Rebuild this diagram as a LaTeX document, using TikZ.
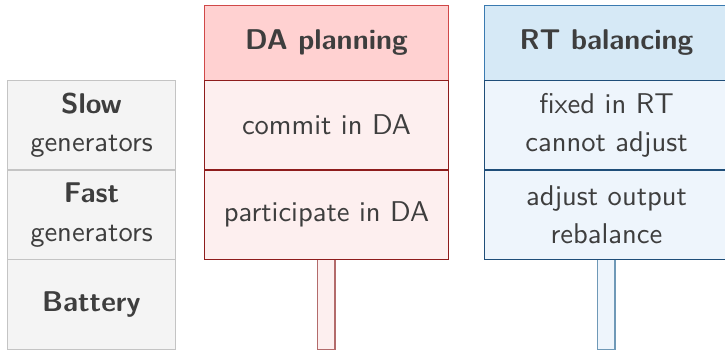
\documentclass[tikz,border=0pt]{standalone}
\usepackage{xcolor}
\definecolor{txt}{HTML}{3E3E3E}
\definecolor{gfill}{HTML}{F4F4F4}
\definecolor{gline}{HTML}{C4C4C4}
\definecolor{rhead}{HTML}{FFD1D1}
\definecolor{rheadline}{HTML}{D04848}
\definecolor{rrow}{HTML}{FDEFEF}
\definecolor{rline}{HTML}{8E1C1C}
\definecolor{rbar}{HTML}{B36B6B}
\definecolor{bhead}{HTML}{D6E9F6}
\definecolor{bheadline}{HTML}{3A7AB0}
\definecolor{brow}{HTML}{EEF5FC}
\definecolor{bline}{HTML}{1F4E79}
\definecolor{bbar}{HTML}{6F99B7}
\tikzset{
  base/.style={rectangle, inner sep=0pt, outer sep=0pt, line width=0.45pt, text=txt,
    font=\sffamily\fontsize{10}{13.5}\selectfont, align=center},
  leftcell/.style={base, fill=gfill, draw=gline, minimum width=58.94pt, minimum height=31.4pt},
  dahead/.style={base, fill=rhead, draw=rheadline, minimum width=85.54pt, minimum height=26.1pt, font=\sffamily\bfseries\fontsize{10}{13.5}\selectfont},
  darow/.style={base, fill=rrow, draw=rline, minimum width=85.54pt, minimum height=31.4pt},
  dabar/.style={base, fill=rrow, draw=rbar, minimum width=6.06pt, minimum height=31.4pt},
  rthead/.style={base, fill=bhead, draw=bheadline, minimum width=85.54pt, minimum height=26.1pt, font=\sffamily\bfseries\fontsize{10}{13.5}\selectfont},
  rtrow/.style={base, fill=brow, draw=bline, minimum width=85.54pt, minimum height=31.4pt},
  rtbar/.style={base, fill=brow, draw=bbar, minimum width=6.06pt, minimum height=31.4pt},
}
\begin{document}
\begin{tikzpicture}[x=0.35pt,y=-0.35pt]
\useasboundingbox (0,0) rectangle (725,350);
% left column
\node[leftcell] (slow) at (91.5,125.2) {\textbf{Slow}\\generators};
\node[leftcell] (fast) at (91.5,214.8) {\textbf{Fast}\\generators};
\node[leftcell] (batt) at (91.5,304.5) {\textbf{Battery}};
% DA column
\node[dabar] (dabar) at (326.4,304.5) {};
\node[dahead] (dah) at (326.5,43) {DA planning};
\node[darow] (da1) at (326.5,125.2) {commit in DA};
\node[darow] (da2) at (326.5,214.8) {participate in DA};
% RT column
\node[rtbar] (rtbar) at (606.4,304.5) {};
\node[rthead] (rth) at (606.5,43) {RT balancing};
\node[rtrow] (rt1) at (606.5,125.2) {fixed in RT\\cannot adjust};
\node[rtrow] (rt2) at (606.5,214.8) {adjust output\\rebalance};
\end{tikzpicture}
\end{document}
